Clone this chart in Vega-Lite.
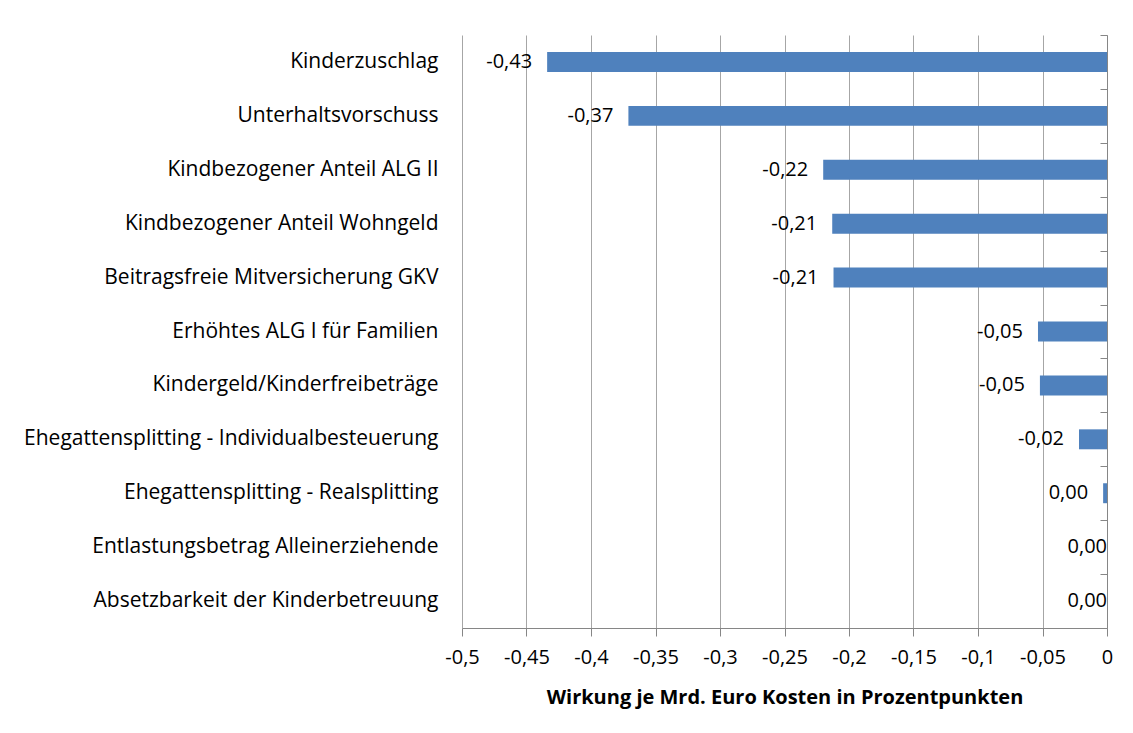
{
  "$schema": "https://vega.github.io/schema/vega-lite/v6.json",
  "width": 645,
  "height": 593,
  "autosize": {"type": "none"},
  "padding": {"left": 462, "top": 35, "right": 26, "bottom": 105},
  "background": "white",
  "config": {
    "view": {"stroke": null},
    "font": "Open Sans",
    "locale": {
      "number": {"decimal": ",", "thousands": ".", "grouping": [3], "currency": ["", " €"], "minus": "-"}
    }
  },
  "data": {
    "values": [
      {"name": "Kinderzuschlag", "value": -0.434},
      {"name": "Unterhaltsvorschuss", "value": -0.371},
      {"name": "Kindbezogener Anteil ALG II", "value": -0.22},
      {"name": "Kindbezogener Anteil Wohngeld", "value": -0.213},
      {"name": "Beitragsfreie Mitversicherung GKV", "value": -0.212},
      {"name": "Erhöhtes ALG I für Familien", "value": -0.0535},
      {"name": "Kindergeld/Kinderfreibeträge", "value": -0.052},
      {"name": "Ehegattensplitting - Individualbesteuerung", "value": -0.0217},
      {"name": "Ehegattensplitting - Realsplitting", "value": -0.003},
      {"name": "Entlastungsbetrag Alleinerziehende", "value": 0},
      {"name": "Absetzbarkeit der Kinderbetreuung", "value": 0}
    ]
  },
  "layer": [
    {
      "mark": {"type": "bar", "color": "#4F81BD", "height": {"band": 0.37}},
      "encoding": {
        "x": {
          "field": "value",
          "type": "quantitative",
          "scale": {"domain": [-0.5, 0], "nice": false},
          "axis": {
            "orient": "bottom",
            "title": "Wirkung je Mrd. Euro Kosten in Prozentpunkten",
            "titleFontSize": 20,
            "titleFontWeight": "bold",
            "titleColor": "#000000",
            "titlePadding": 20,
            "tickCount": 10,
            "format": ".2~f",
            "labelFontSize": 20,
            "labelColor": "#000000",
            "labelPadding": 11,
            "labelFlush": false,
            "labelOverlap": false,
            "domainColor": "#868686",
            "tickColor": "#868686",
            "tickSize": 8,
            "grid": true,
            "gridColor": "#A6A6A6"
          }
        },
        "y": {
          "field": "name",
          "type": "nominal",
          "sort": null,
          "scale": {"paddingInner": 0, "paddingOuter": 0},
          "axis": {
            "orient": "left",
            "title": null,
            "domain": false,
            "ticks": false,
            "labelPadding": 24,
            "labelFontSize": 21,
            "labelColor": "#000000",
            "labelLimit": 600
          }
        }
      }
    },
    {
      "transform": [{"filter": "datum.value != 0"}],
      "mark": {"type": "text", "align": "right", "baseline": "middle", "dx": -15, "fontSize": 20, "color": "#000000"},
      "encoding": {
        "x": {"field": "value", "type": "quantitative"},
        "y": {"field": "name", "type": "nominal", "sort": null, "axis": null},
        "text": {"field": "value", "type": "quantitative", "format": ".2f"}
      }
    },
    {
      "transform": [{"filter": "datum.value == 0"}],
      "mark": {"type": "text", "align": "right", "baseline": "middle", "dx": 0, "fontSize": 20, "color": "#000000"},
      "encoding": {
        "x": {"field": "value", "type": "quantitative"},
        "y": {"field": "name", "type": "nominal", "sort": null, "axis": null},
        "text": {"field": "value", "type": "quantitative", "format": ".2f"}
      }
    },
    {
      "mark": {"type": "point", "opacity": 0},
      "encoding": {
        "x": {"field": "value", "type": "quantitative"},
        "y": {
          "field": "name",
          "type": "nominal",
          "sort": null,
          "axis": {
            "orient": "right",
            "title": null,
            "labels": false,
            "domain": true,
            "domainColor": "#868686",
            "ticks": true,
            "tickBand": "extent",
            "tickSize": -7,
            "tickColor": "#868686",
            "grid": false
          }
        }
      }
    }
  ],
  "resolve": {"axis": {"y": "independent"}}
}
